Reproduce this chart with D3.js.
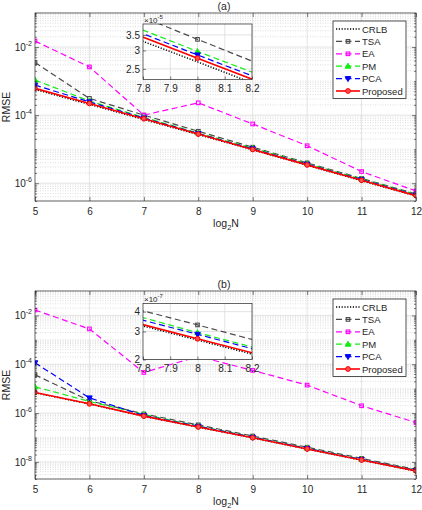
<!DOCTYPE html>
<html>
<head>
<meta charset="utf-8">
<script src="https://cdn.jsdelivr.net/npm/d3@7"></script>
<style>
  body { margin: 0; background: #fff; }
  svg text { font-family: "Liberation Sans", Arial, sans-serif; fill: #262626; }
</style>
</head>
<body>
<div id="chart"></div>
<script>
// x values (log2 N)
var xVals = [5, 6, 7, 8, 9, 10, 11, 12];
var seriesNames = ["CRLB", "TSA", "EA", "PM", "PCA", "Proposed"];

// panel (a) values
var crlbA     = [5.7e-4, 2.05e-4, 7.4e-5, 2.68e-5, 9.5e-6, 3.35e-6, 1.18e-6, 4.2e-7];
var tsaA      = [3.5e-3, 3.1e-4, 1.0e-4, 3.35e-5, 1.14e-5, 3.95e-6, 1.38e-6, 4.85e-7];
var eaA       = [1.5e-2, 2.6e-3, 1.0e-4, 2.3e-4, 5.5e-5, 1.26e-5, 2.2e-6, 5.9e-7];
var pmA       = [1.07e-3, 2.6e-4, 8.6e-5, 2.97e-5, 1.07e-5, 3.75e-6, 1.32e-6, 4.65e-7];
var pcaA      = [7.6e-4, 2.45e-4, 8.2e-5, 2.87e-5, 1.02e-5, 3.6e-6, 1.27e-6, 4.5e-7];
var proposedA = [6.1e-4, 2.2e-4, 7.85e-5, 2.78e-5, 9.8e-6, 3.45e-6, 1.22e-6, 4.3e-7];

// panel (b)
var crlbB     = [6.8e-6, 2.35e-6, 7.35e-7, 2.65e-7, 9.6e-8, 3.33e-8, 1.18e-8, 4.2e-9];
var tsaB      = [3.7e-5, 3.2e-6, 9.2e-7, 3.3e-7, 1.15e-7, 4.0e-8, 1.4e-8, 4.9e-9];
var eaB       = [1.66e-2, 2.8e-3, 4.6e-5, 2.1e-4, 5.6e-5, 1.4e-5, 2.0e-6, 4.1e-7];
var pmB       = [1.2e-5, 3.0e-6, 8.8e-7, 2.95e-7, 1.05e-7, 3.65e-8, 1.28e-8, 4.55e-9];
var pcaB      = [1.15e-4, 4.2e-6, 8.0e-7, 2.88e-7, 1.02e-7, 3.55e-8, 1.25e-8, 4.45e-9];
var proposedB = [7.0e-6, 2.4e-6, 7.5e-7, 2.7e-7, 9.8e-8, 3.4e-8, 1.2e-8, 4.3e-9];

// tick labels
var insetXTicks = [7.8, 7.9, 8, 8.1, 8.2];
var insetXLabels = ["7.8", "7.9", "8", "8.1", "8.2"];
var insetYTicksA = [2.5e-5, 3e-5, 3.5e-5];
var insetYLabelsA = ["2.5", "3", "3.5"];
var insetYTicksB = [2e-7, 3e-7, 4e-7];
var insetYLabelsB = ["2", "3", "4"];

// line styles
var styles = {
    CRLB:     { color: "#000000", dash: "1.2,1.6", width: 1.4, marker: null },
    TSA:      { color: "#4a4a4a", dash: "6,3.5", width: 1.2, marker: "square" },
    EA:       { color: "#ff00ff", dash: "6,3.5", width: 1.2, marker: "square" },
    PM:       { color: "#11ee11", dash: "6,3.5", width: 1.2, marker: "up" },
    PCA:      { color: "#0000ff", dash: "6,3.5", width: 1.2, marker: "down" },
    Proposed: { color: "#ff0000", dash: null, width: 1.6, marker: "circle" }
};

var svg = d3.select("#chart")
    .append("svg")
    .attr("width", 422)
    .attr("height", 510);

svg.append("rect").attr("width", 422).attr("height", 510).attr("fill", "#fff");

var clipId = 0;

function drawMarker(sel, type, color) {
    if (type === "square") {
        sel.append("rect").attr("x", -1.8).attr("y", -1.8).attr("width", 3.6).attr("height", 3.6)
            .attr("fill", "none").attr("stroke", color).attr("stroke-width", 1.1);
    } else if (type === "up") {
        sel.append("path").attr("d", "M0,-3L2.8,2L-2.8,2Z").attr("fill", color).attr("stroke", color);
    } else if (type === "down") {
        sel.append("path").attr("d", "M0,3L2.8,-2L-2.8,-2Z").attr("fill", color).attr("stroke", color);
    } else if (type === "circle") {
        sel.append("circle").attr("r", 2.4).attr("fill", "#ff5050").attr("stroke", color).attr("stroke-width", 1);
    }
}

function drawSeries(g, data, xs, ys, clip) {
    var line = d3.line()
        .x(function(d) { return xs(d[0]); })
        .y(function(d) { return ys(d[1]); });
    var lg = g.append("g").attr("clip-path", "url(#" + clip + ")");
    seriesNames.forEach(function(name, i) {
        var st = styles[name];
        var pts = xVals.map(function(v, j) { return [v, data[i][j]]; });
        lg.append("path")
            .datum(pts)
            .attr("d", line)
            .attr("fill", "none")
            .attr("stroke", st.color)
            .attr("stroke-width", st.width)
            .attr("stroke-dasharray", st.dash);
        if (st.marker) {
            var xd = xs.domain(), yd = ys.domain();
            pts.filter(function(p) { return p[0] >= xd[0] && p[0] <= xd[1] && p[1] >= yd[0] && p[1] <= yd[1]; })
                .forEach(function(p) {
                    var m = lg.append("g").attr("transform", "translate(" + xs(p[0]) + "," + ys(p[1]) + ")");
                    drawMarker(m, st.marker, st.color);
                });
        }
    });
}

function drawPanel(p) {
    var x = d3.scaleLinear().domain([5, 12]).range([p.left, p.right]);
    var y = d3.scaleLog().domain(p.yDomain).range([p.bottom, p.top]);
    var g = svg.append("g");

    // minor / major values on the log axis
    var minor = [], major = [];
    for (var e = p.expRange[0]; e <= p.expRange[1]; e++) {
        for (var m = 1; m <= 9; m++) {
            var v = m * Math.pow(10, e);
            if (v < p.yDomain[0] * 0.999 || v > p.yDomain[1] * 1.001) continue;
            if (m === 1 && p.majorExp.indexOf(e) >= 0) major.push(v);
            else minor.push(v);
        }
    }

    // grid
    g.selectAll(".ymin").data(minor).enter().append("line")
        .attr("x1", p.left).attr("x2", p.right)
        .attr("y1", function(d) { return y(d); }).attr("y2", function(d) { return y(d); })
        .attr("stroke", "#c8c8c8").attr("stroke-width", 0.6).attr("stroke-dasharray", "1,1.5");
    g.selectAll(".ymaj").data(major).enter().append("line")
        .attr("x1", p.left).attr("x2", p.right)
        .attr("y1", function(d) { return y(d); }).attr("y2", function(d) { return y(d); })
        .attr("stroke", "#dcdcdc").attr("stroke-width", 0.8);
    g.selectAll(".xg").data(xVals.slice(1, -1)).enter().append("line")
        .attr("x1", function(d) { return x(d); }).attr("x2", function(d) { return x(d); })
        .attr("y1", p.top).attr("y2", p.bottom)
        .attr("stroke", "#dcdcdc").attr("stroke-width", 0.8);

    // data
    clipId++;
    var cid = "clip" + clipId;
    svg.append("clipPath").attr("id", cid).append("rect")
        .attr("x", p.left).attr("y", p.top).attr("width", p.right - p.left).attr("height", p.bottom - p.top);
    drawSeries(g, p.data, x, y, cid);

    // axes (ticks inward)
    var axCol = "#262626";
    function styleAxis(a) {
        a.select(".domain").remove();
        a.selectAll(".tick line").attr("stroke", axCol).attr("stroke-width", 0.6);
    }
    var xb = g.append("g").attr("transform", "translate(0," + p.bottom + ")")
        .call(d3.axisBottom(x).tickValues(xVals).tickSizeInner(-4).tickSizeOuter(0).tickPadding(7)
            .tickFormat(d3.format("d")));
    styleAxis(xb);
    xb.selectAll("text").attr("font-size", 10).attr("fill", axCol);
    var xt = g.append("g").attr("transform", "translate(0," + p.top + ")")
        .call(d3.axisTop(x).tickValues(xVals).tickSizeInner(-4).tickSizeOuter(0).tickFormat(""));
    styleAxis(xt);
    [["l", d3.axisLeft, p.left], ["r", d3.axisRight, p.right]].forEach(function(a) {
        var ga = g.append("g").attr("transform", "translate(" + a[2] + ",0)")
            .call(a[1](y).tickValues(major).tickSizeInner(-4).tickSizeOuter(0).tickFormat(""));
        styleAxis(ga);
        var gm = g.append("g").attr("transform", "translate(" + a[2] + ",0)")
            .call(a[1](y).tickValues(minor).tickSizeInner(-2).tickSizeOuter(0).tickFormat(""));
        styleAxis(gm);
    });

    // y tick labels 10^k
    major.forEach(function(v) {
        var t = g.append("text").attr("x", p.left - 3).attr("y", y(v) + 4)
            .attr("text-anchor", "end").attr("font-size", 10);
        t.append("tspan").text("10");
        t.append("tspan").attr("dy", -5).attr("font-size", 7).text(String(Math.round(Math.log10(v))));
    });

    // box
    g.append("rect").attr("x", p.left).attr("y", p.top)
        .attr("width", p.right - p.left).attr("height", p.bottom - p.top)
        .attr("fill", "none").attr("stroke", axCol).attr("stroke-width", 0.7);

    // labels
    g.append("text").attr("x", 224).attr("y", p.top - 3).attr("text-anchor", "middle")
        .attr("font-size", 10.5).text(p.title);
    var xl = g.append("text").attr("x", 226).attr("y", p.bottom + 26).attr("text-anchor", "middle").attr("font-size", 10.5);
    xl.append("tspan").text("log");
    xl.append("tspan").attr("dy", 2.5).attr("font-size", 7.5).text("2");
    xl.append("tspan").attr("dy", -2.5).text("N");
    g.append("text").attr("transform", "translate(10," + ((p.top + p.bottom) / 2) + ") rotate(-90)")
        .attr("text-anchor", "middle").attr("font-size", 10.5).text("RMSE");

    // inset
    var ib = p.inset;
    var xi = d3.scaleLinear().domain([7.8, 8.2]).range([ib.left, ib.right]);
    var yi = d3.scaleLog().domain(ib.domain).range([ib.bottom, ib.top]);
    var gi = svg.append("g");
    gi.append("rect").attr("x", ib.left).attr("y", ib.top)
        .attr("width", ib.right - ib.left).attr("height", ib.bottom - ib.top).attr("fill", "#fff");
    gi.selectAll(".ixg").data(insetXTicks.slice(1, -1)).enter().append("line")
        .attr("x1", function(d) { return xi(d); }).attr("x2", function(d) { return xi(d); })
        .attr("y1", ib.top).attr("y2", ib.bottom).attr("stroke", "#dcdcdc").attr("stroke-width", 0.8);
    gi.selectAll(".iyg").data(ib.ticks).enter().append("line")
        .attr("x1", ib.left).attr("x2", ib.right)
        .attr("y1", function(d) { return yi(d); }).attr("y2", function(d) { return yi(d); })
        .attr("stroke", "#dcdcdc").attr("stroke-width", 0.8);
    clipId++;
    var icid = "clip" + clipId;
    svg.append("clipPath").attr("id", icid).append("rect")
        .attr("x", ib.left).attr("y", ib.top).attr("width", ib.right - ib.left).attr("height", ib.bottom - ib.top);
    drawSeries(gi, p.data, xi, yi, icid);

    var ixb = gi.append("g").attr("transform", "translate(0," + ib.bottom + ")")
        .call(d3.axisBottom(xi).tickValues(insetXTicks).tickSizeInner(-3).tickSizeOuter(0).tickPadding(5)
            .tickFormat(function(d, i) { return insetXLabels[i]; }));
    styleAxis(ixb);
    ixb.selectAll("text").attr("font-size", 10).attr("fill", axCol);
    var iyl = gi.append("g").attr("transform", "translate(" + ib.left + ",0)")
        .call(d3.axisLeft(yi).tickValues(ib.ticks).tickSizeInner(-3).tickSizeOuter(0).tickPadding(3)
            .tickFormat(function(d, i) { return ib.labels[i]; }));
    styleAxis(iyl);
    iyl.selectAll("text").attr("font-size", 10).attr("fill", axCol);
    gi.append("rect").attr("x", ib.left).attr("y", ib.top)
        .attr("width", ib.right - ib.left).attr("height", ib.bottom - ib.top)
        .attr("fill", "none").attr("stroke", axCol).attr("stroke-width", 0.7);
    var ex = gi.append("text").attr("x", ib.left + 1).attr("y", ib.top - 1.5).attr("font-size", 8);
    ex.append("tspan").text("\u00d710");
    ex.append("tspan").attr("dy", -4).attr("font-size", 6).text(ib.exp);

    // legend
    var lgX = 333, lgW = 73, rowH = 12.4;
    var lg = svg.append("g");
    lg.append("rect").attr("x", lgX).attr("y", p.legendTop).attr("width", lgW).attr("height", rowH * 6 + 3)
        .attr("fill", "#fff").attr("stroke", axCol).attr("stroke-width", 0.8);
    seriesNames.forEach(function(name, i) {
        var st = styles[name];
        var ry = p.legendTop + 8 + i * rowH;
        lg.append("line").attr("x1", lgX + 3).attr("x2", lgX + 27).attr("y1", ry).attr("y2", ry)
            .attr("stroke", st.color).attr("stroke-width", st.width).attr("stroke-dasharray", st.dash);
        if (st.marker) {
            var m = lg.append("g").attr("transform", "translate(" + (lgX + 15) + "," + ry + ")");
            drawMarker(m, st.marker, st.color);
        }
        lg.append("text").attr("x", lgX + 29).attr("y", ry + 3.5).attr("font-size", 9.5).text(name);
    });
}

drawPanel({
    title: "(a)", left: 35, right: 416, top: 13, bottom: 201,
    yDomain: [3e-7, 1e-1], expRange: [-7, -1], majorExp: [-2, -4, -6],
    data: [crlbA, tsaA, eaA, pmA, pcaA, proposedA],
    legendTop: 21,
    inset: { left: 143, right: 252, top: 24, bottom: 79.5, domain: [2.25e-5, 3.9e-5],
             ticks: insetYTicksA, labels: insetYLabelsA, exp: "-5" }
});

drawPanel({
    title: "(b)", left: 35, right: 416, top: 291, bottom: 479,
    yDomain: [2e-9, 1e-1], expRange: [-9, -1], majorExp: [-2, -4, -6, -8],
    data: [crlbB, tsaB, eaB, pmB, pcaB, proposedB],
    legendTop: 299,
    inset: { left: 143, right: 252, top: 303.5, bottom: 359.5, domain: [2e-7, 4.5e-7],
             ticks: insetYTicksB, labels: insetYLabelsB, exp: "-7" }
});
</script>
</body>
</html>
